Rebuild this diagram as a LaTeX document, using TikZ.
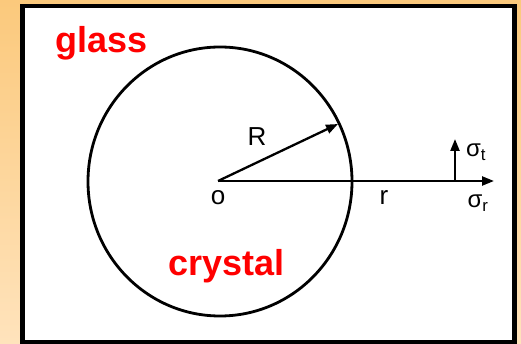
\documentclass[tikz,border=0pt]{standalone}
\usepackage{fontspec}
\setmainfont{Liberation Sans}
\usetikzlibrary{arrows.meta}

\definecolor{bgtop}{HTML}{FBC97C}
\definecolor{bgbot}{HTML}{FFE3BC}
\definecolor{labred}{HTML}{FF0000}

\tikzset{
    phase/.style={text=labred, font=\fontsize{36}{36}\selectfont\bfseries, anchor=base},
    sym/.style={font=\fontsize{26}{26}\selectfont, anchor=base},
    vec/.style={line width=2.3pt, -{Triangle[length=12pt,width=9pt]}}
}

\begin{document}
\begin{tikzpicture}[x=1pt,y=-1pt]

% Background
\useasboundingbox (0,0) rectangle (521,344);
\shade[top color=bgtop, bottom color=bgbot] (0,0) rectangle (521,344);

% Frame
\draw[line width=4.5pt, fill=white] (22.5,6) rectangle (514.5,342);

% Sphere
\draw[line width=2.8pt] (220,181.5) ellipse [x radius=132, y radius=134.5];

% Points
\coordinate (O) at (218,181);
\coordinate (Rtip) at (338,124);
\coordinate (rtip) at (494,181);
\coordinate (S) at (455,181);
\coordinate (Stip) at (455,139);

% Arrows
\draw[vec] (O) -- (Rtip);
\draw[vec] (O) -- (rtip);
\draw[vec] (S) -- (Stip);

% Labels
\node[phase] (glass) at (101.5,53) {glass};
\node[phase] (crystal) at (226.5,275) {crystal};
\node[sym] (Rlab) at (257,146) {R};
\node[sym] (olab) at (218,205) {o};
\node[sym] (rlab) at (384,205) {r};
\node[sym, font=\fontsize{24}{24}\selectfont] (st) at (476,157) {σ\textsubscript{t}};
\node[sym, font=\fontsize{24}{24}\selectfont] (sr) at (478,208) {σ\textsubscript{r}};

\end{tikzpicture}
\end{document}
